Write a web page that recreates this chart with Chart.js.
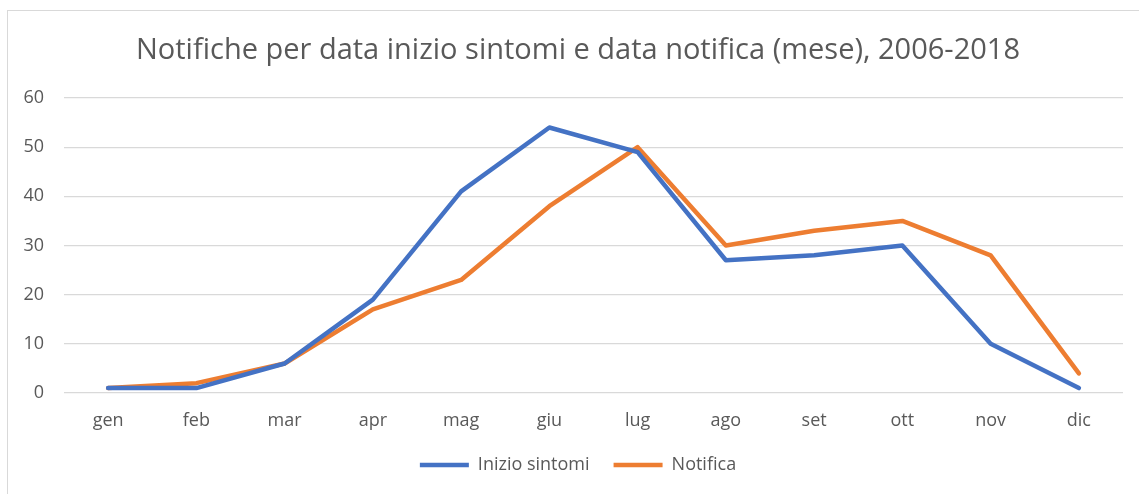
<!DOCTYPE html>
<html>
<head>
<meta charset="utf-8">
<script src="https://cdn.jsdelivr.net/npm/chart.js@4"></script>
<style>
  html, body { margin: 0; padding: 0; background: #fff; }
  #wrap { position: relative; width: 1139px; height: 494px; overflow: hidden; }
  #frame { position: absolute; left: 7px; top: 10px; width: 1150px; height: 500px; border: 1px solid #d9d9d9; box-sizing: border-box; }
  canvas { position: absolute; left: 0; top: 0; }
</style>
</head>
<body>
<div id="wrap">
  <div id="frame"></div>
  <canvas id="graph" width="1139" height="494"></canvas>
</div>
<script>
const months = ['gen', 'feb', 'mar', 'apr', 'mag', 'giu', 'lug', 'ago', 'set', 'ott', 'nov', 'dic'];
const inizioSintomi = [1, 1, 6, 19, 41, 54, 49, 27, 28, 30, 10, 1];
const notifica = [1, 2, 6, 17, 23, 38, 50, 30, 33, 35, 28, 4];
const yTicks = [0, 10, 20, 30, 40, 50, 60];

const textColor = '#595959';
const gridColor = '#d9d9d9';
const font = 'Open Sans';

const ctx = document.getElementById('graph').getContext('2d');

function line(label, data, color) {
  return {
    label, data,
    borderColor: color,
    backgroundColor: color,
    borderWidth: 4.5,
    borderCapStyle: 'round',
    borderJoinStyle: 'round',
    pointRadius: 0,
    pointHoverRadius: 0,
    tension: 0,
    fill: false
  };
}

new Chart(ctx, {
  type: 'line',
  data: {
    labels: months,
    datasets: [
      line('Inizio sintomi', inizioSintomi, '#4472C4'),
      line('Notifica', notifica, '#ED7D31')
    ]
  },
  options: {
    responsive: false,
    animation: false,
    // negative right padding + empty right axis: title/legend centre on the frame (x 578)
    layout: { padding: { left: 0, right: -17, top: 0, bottom: 10 } },
    plugins: {
      title: {
        display: true,
        text: 'Notifiche per data inizio sintomi e data notifica (mese), 2006-2018',
        color: textColor,
        font: { family: font, size: 29, weight: 'normal' },
        padding: { top: 33, bottom: 30.2 }
      },
      legend: {
        position: 'bottom',
        labels: {
          color: textColor,
          font: { family: font, size: 18 },
          usePointStyle: true,
          pointStyle: 'line',
          pointStyleWidth: 49,
          padding: 24
        }
      },
      tooltip: { enabled: false }
    },
    scales: {
      x: {
        offset: true,
        grid: { display: false, drawTicks: false },
        border: { display: false },
        ticks: { color: textColor, font: { family: font, size: 18 }, padding: 17, maxRotation: 0 },
        afterFit: s => { s.height = 39; }
      },
      y: {
        min: 0,
        max: 60,
        afterBuildTicks: s => { s.ticks = yTicks.map(v => ({ value: v })); },
        grid: { color: gridColor, lineWidth: 1.3, drawTicks: false },
        border: { display: false },
        ticks: { color: textColor, font: { family: font, size: 18 }, padding: 20 },
        afterFit: s => { s.width = 64; }
      },
      spacer: {
        position: 'right',
        grid: { display: false, drawTicks: false },
        border: { display: false },
        ticks: { display: false },
        afterFit: s => { s.width = 33; }
      }
    }
  }
});
</script>
</body>
</html>
